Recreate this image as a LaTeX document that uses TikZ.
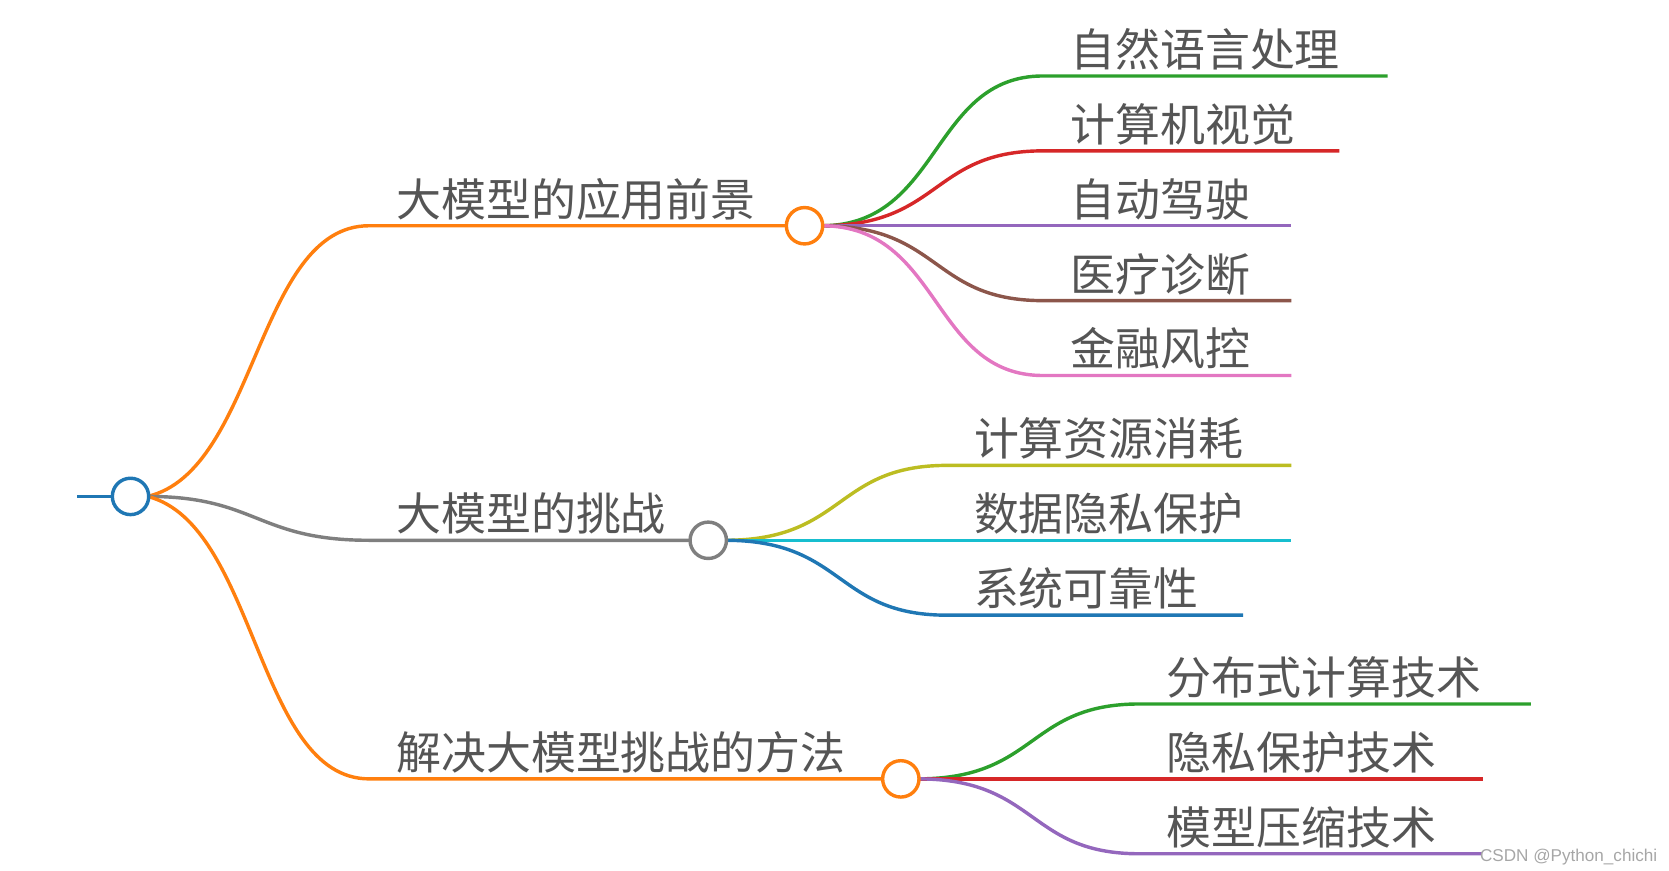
\documentclass[tikz,border=0pt]{standalone}
\usepackage{fontspec}
\setmainfont{Noto Sans CJK SC}
\newfontfamily\wm{Liberation Sans}
\definecolor{cor}{HTML}{FF7F0E}
\definecolor{cbl}{HTML}{1F77B4}
\definecolor{cgr}{HTML}{7F7F7F}
\definecolor{cgn}{HTML}{2CA02C}
\definecolor{crd}{HTML}{D62728}
\definecolor{cpu}{HTML}{9467BD}
\definecolor{cbr}{HTML}{8C564B}
\definecolor{cpk}{HTML}{E377C2}
\definecolor{col}{HTML}{BCBD22}
\definecolor{ccy}{HTML}{17BECF}
\definecolor{ctx}{HTML}{555555}
\begin{document}
\begin{tikzpicture}[x=0.5pt,y=-0.5pt,
  ln/.style={line width=1.6pt},
  hub/.style={circle,draw,line width=1.6pt,fill=white,minimum size=17pt,inner sep=0pt},
  lab/.style={anchor=base west,text=ctx,font=\fontsize{21}{21}\selectfont,inner sep=0pt}]
\useasboundingbox (0,0) rectangle (1560,814);
% root
\draw[ln,cbl] (72,464) -- (106,464);
% level 1 lines
\coordinate (a0) at (345,211); \coordinate (b0) at (345,505); \coordinate (c0) at (345,728);
\draw[ln,cor] (138,464) .. controls (240,440) and (240,211) .. (a0) -- (736,211);
\draw[ln,cgr] (138,464) .. controls (240,464) and (240,505) .. (b0) -- (646,505);
\draw[ln,cor] (138,464) .. controls (240,490) and (240,728) .. (c0) -- (826,728);
\node[lab] (ta) at (370,202) {大模型的应用前景};
\node[lab] (tb) at (370,496) {大模型的挑战};
\node[lab] (tc) at (370,719) {解决大模型挑战的方法};
% children A
\foreach \y/\e/\c/\t in {71/1297/cgn/自然语言处理,141/1252/crd/计算机视觉,211/1207/cpu/自动驾驶,281/1207/cbr/医疗诊断,351/1207/cpk/金融风控}{
  \draw[ln,\c] (768,211) .. controls (880,211) and (870,\y) .. (975,\y) -- (\e,\y);
  \node[lab] at (1000,\y-9) {\t};
}
% children B
\foreach \y/\e/\c/\t in {435/1207/col/计算资源消耗,505/1207/ccy/数据隐私保护,575/1162/cbl/系统可靠性}{
  \draw[ln,\c] (678,505) .. controls (790,505) and (780,\y) .. (885,\y) -- (\e,\y);
  \node[lab] at (910,\y-9) {\t};
}
% children C
\foreach \y/\e/\c/\t in {658/1431/cgn/分布式计算技术,728/1386/crd/隐私保护技术,798/1385/cpu/模型压缩技术}{
  \draw[ln,\c] (858,728) .. controls (970,728) and (960,\y) .. (1065,\y) -- (\e,\y);
  \node[lab] at (1090,\y-9) {\t};
}
\node[hub,draw=cbl] (root) at (122,464) {};
\node[hub,draw=cor] (A) at (752,211) {};
\node[hub,draw=cgr] (B) at (662,505) {};
\node[hub,draw=cor] (C) at (842,728) {};
\node[anchor=base west,inner sep=0pt,text=gray!70,font=\wm\fontsize{8}{8}\selectfont] (wm) at (1383,805) {CSDN @Python\_chichi};
\end{tikzpicture}
\end{document}
